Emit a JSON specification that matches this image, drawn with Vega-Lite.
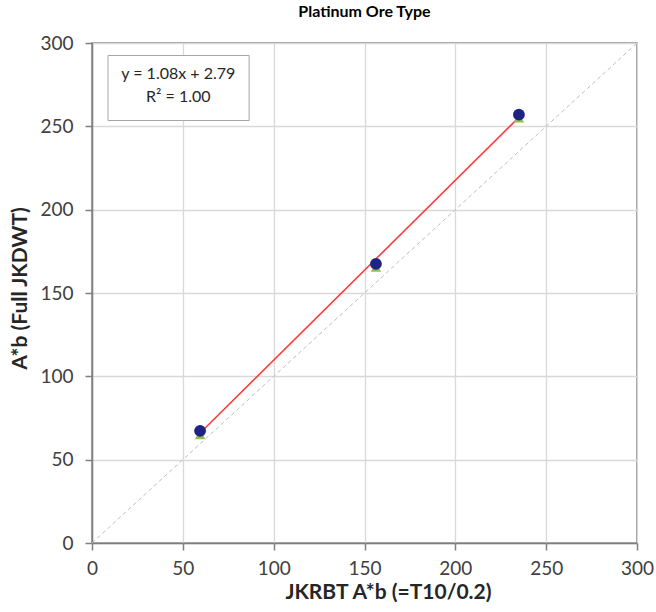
{
  "$schema": "https://vega.github.io/schema/vega-lite/v6.json",
  "width": 545,
  "height": 500,
  "autosize": {"type": "none"},
  "padding": {"left": 92, "top": 43, "right": 19, "bottom": 69},
  "background": "white",
  "title": {
    "text": "Platinum Ore Type",
    "font": "Lato",
    "fontSize": 16,
    "fontWeight": "bold",
    "color": "#000000",
    "anchor": "middle",
    "offset": 14
  },
  "datasets": {
    "measured": [
      {"jkrbt": 59.5, "full": 67.3, "series": "Full JKDWT"},
      {"jkrbt": 156.3, "full": 167.5, "series": "Full JKDWT"},
      {"jkrbt": 235.0, "full": 257.0, "series": "Full JKDWT"}
    ],
    "other": [
      {"jkrbt": 59.5, "full": 65.0},
      {"jkrbt": 156.3, "full": 165.5},
      {"jkrbt": 235.0, "full": 255.0}
    ],
    "identity": [
      {"jkrbt": 0, "full": 0},
      {"jkrbt": 300, "full": 300}
    ],
    "box": [
      {"x1": 8.8, "x2": 86.5, "y1": 253.5, "y2": 292.5}
    ],
    "labels": [
      {"x": 47.5, "y": 281.6, "label": "y = 1.08x + 2.79"},
      {"x": 47.5, "y": 267.4, "label": "R² = 1.00"}
    ]
  },
  "layer": [
    {
      "data": {"name": "identity"},
      "mark": {"type": "line", "color": "#bfbfbf", "strokeWidth": 1, "strokeDash": [4, 3]},
      "encoding": {
        "x": {
          "field": "jkrbt", "type": "quantitative",
          "scale": {"domain": [0, 300], "nice": false},
          "title": "JKRBT A*b (=T10/0.2)",
          "axis": {"values": [0, 50, 100, 150, 200, 250, 300], "labelPadding": 9, "titlePadding": 3, "titleX": 296, "titleAlign": "center"}
        },
        "y": {
          "field": "full", "type": "quantitative",
          "scale": {"domain": [0, 300], "nice": false},
          "title": "A*b (Full JKDWT)",
          "axis": {"values": [0, 50, 100, 150, 200, 250, 300], "labelPadding": 12, "titlePadding": 9, "titleY": 245, "titleAlign": "center"}
        }
      }
    },
    {
      "data": {"name": "measured"},
      "transform": [{"regression": "full", "on": "jkrbt"}],
      "mark": {"type": "line", "color": "#ff3b3b", "strokeWidth": 1.6},
      "encoding": {
        "x": {"field": "jkrbt", "type": "quantitative"},
        "y": {"field": "full", "type": "quantitative"}
      }
    },
    {
      "data": {"name": "other"},
      "mark": {"type": "point", "shape": "triangle-up", "filled": true, "color": "#92c050", "size": 110, "opacity": 1},
      "encoding": {
        "x": {"field": "jkrbt", "type": "quantitative"},
        "y": {"field": "full", "type": "quantitative"}
      }
    },
    {
      "data": {"name": "measured"},
      "mark": {"type": "circle", "color": "#1f2483", "size": 140, "opacity": 1},
      "encoding": {
        "x": {"field": "jkrbt", "type": "quantitative"},
        "y": {"field": "full", "type": "quantitative"}
      }
    },
    {
      "data": {"name": "box"},
      "mark": {"type": "rect", "fill": "white", "stroke": "#a6a6a6", "strokeWidth": 1},
      "encoding": {
        "x": {"field": "x1", "type": "quantitative"},
        "x2": {"field": "x2"},
        "y": {"field": "y1", "type": "quantitative"},
        "y2": {"field": "y2"}
      }
    },
    {
      "data": {"name": "labels"},
      "mark": {"type": "text", "font": "Lato", "fontSize": 16, "color": "#262626", "align": "center", "baseline": "middle"},
      "encoding": {
        "x": {"field": "x", "type": "quantitative"},
        "y": {"field": "y", "type": "quantitative"},
        "text": {"field": "label"}
      }
    }
  ],
  "config": {
    "view": {"stroke": "#7f7f7f", "strokeWidth": 1.5},
    "axis": {
      "grid": true,
      "gridColor": "#d9d9d9",
      "gridWidth": 1.3,
      "domainColor": "#7f7f7f",
      "domainWidth": 1.5,
      "tickColor": "#7f7f7f",
      "tickWidth": 1.5,
      "tickSize": 7,
      "labelFlush": false,
      "labelFont": "Lato",
      "labelFontSize": 19,
      "labelColor": "#404040",
      "titleFont": "Lato",
      "titleFontSize": 21,
      "titleFontWeight": "bold",
      "titleColor": "#262626"
    }
  }
}
